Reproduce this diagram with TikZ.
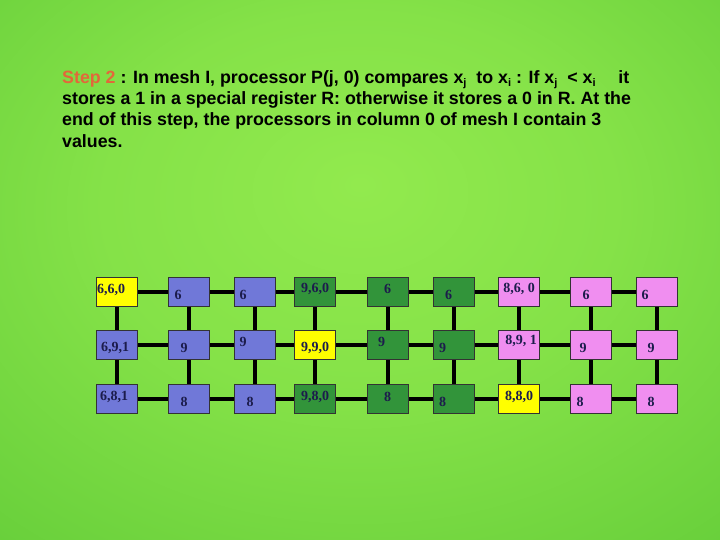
\documentclass[tikz,border=0pt]{standalone}
\usepackage{fontspec}
\setmainfont{Liberation Serif}
\newfontfamily\sansfont{Liberation Sans}

\definecolor{bgdark}{RGB}{58,178,38}
\definecolor{bglight}{RGB}{146,234,78}
\definecolor{cellblue}{RGB}{112,120,216}
\definecolor{cellgreen}{RGB}{50,148,58}
\definecolor{cellpink}{RGB}{240,142,240}
\definecolor{cellyellow}{RGB}{255,255,0}
\definecolor{steporange}{RGB}{226,104,58}
\definecolor{cellink}{RGB}{28,28,76}

\pgfdeclareradialshading{greenglow}{\pgfpoint{0bp}{8bp}}{color(0bp)=(bglight); color(18bp)=(bglight!85!bgdark); color(72bp)=(bgdark)}
\pgfdeclarelayer{back}
\pgfdeclarelayer{wires}
\pgfsetlayers{back,wires,main}

\tikzset{
  cell/.style={draw=black!80,line width=0.7pt,minimum width=41pt,minimum height=29pt,inner sep=0pt},
  wire/.style={line width=4pt},
  val/.style={font=\bfseries\fontsize{14}{14}\selectfont,text=cellink,inner sep=0pt}
}
\newcommand{\sub}[1]{\raisebox{-0.35ex}{\fontsize{11}{11}\selectfont #1}}

\begin{document}
\begin{tikzpicture}[x=1pt,y=-1pt,line cap=butt]
  \useasboundingbox (0,0) rectangle (720,540);
  \begin{pgfonlayer}{back}
    \shade[shading=greenglow] (0,0) rectangle (720,540);
  \end{pgfonlayer}
  \node[anchor=north west,inner sep=0pt,align=left,
        font=\sansfont\bfseries\fontsize{17.8}{21.4}\selectfont] (T) at (62,70)
    {\textcolor{steporange}{Step 2} : In mesh I, processor P(j, 0) compares x\sub{j}\ \ to x\sub{i} : If x\sub{j}\ \ < x\sub{i}\quad\ it\\
     stores a 1 in a special register R: otherwise it stores a 0 in R. At the\\
     end of this step, the processors in column 0 of mesh I contain 3\\
     values.};
  % the three meshes, column by column
  \foreach \c/\r/\x/\y/\f/\t/\dx/\dy in {
      0/0/117/291.5/cellyellow/{6,6,0}/-6/-2, 0/1/117/345/cellblue/{6,9,1}/-2/3, 0/2/117/399/cellblue/{6,8,1}/-3/-2,
      1/0/189/291.5/cellblue/6/-11/3, 1/1/189/345/cellblue/9/-5/3, 1/2/189/399/cellblue/8/-5/3,
      2/0/255/291.5/cellblue/6/-12/3, 2/1/255/345/cellblue/9/-12/-3, 2/2/255/399/cellblue/8/-5/3,
      3/0/315/291.5/cellgreen/{9,6,0}/0/-3, 3/1/315/345/cellyellow/{9,9,0}/0/3, 3/2/315/399/cellgreen/{9,8,0}/0/-2,
      4/0/387.5/291.5/cellgreen/6/0/-3, 4/1/387.5/345/cellgreen/9/-6/-3, 4/2/387.5/399/cellgreen/8/0/-2,
      5/0/453.5/291.5/cellgreen/6/-5/3, 5/1/453.5/345/cellgreen/9/-11/3, 5/2/453.5/399/cellgreen/8/-11/3,
      6/0/519/291.5/cellpink/{8,6, 0}/0/-3, 6/1/519/345/cellpink/{8,9, 1}/2/-4, 6/2/519/399/cellyellow/{8,8,0}/0/-2,
      7/0/591/291.5/cellpink/6/-5/3, 7/1/591/345/cellpink/9/-8/3, 7/2/591/399/cellpink/8/-11/3,
      8/0/657/291.5/cellpink/6/-12/3, 8/1/657/345/cellpink/9/-6/3, 8/2/657/399/cellpink/8/-6/3}
  {
    \node[cell,fill=\f] (P\r\c) at (\x,\y) {};
    \node[val] at (\x+\dx,\y+\dy) {\t};
  }
  \begin{pgfonlayer}{wires}
    \foreach \r in {0,1,2}
      \foreach \c [count=\n from 1] in {0,...,7}
        \draw[wire] (P\r\c) -- (P\r\n);
    \foreach \c in {0,...,8} {
      \draw[wire] (P0\c) -- (P1\c);
      \draw[wire] (P1\c) -- (P2\c);
    }
  \end{pgfonlayer}
\end{tikzpicture}
\end{document}
